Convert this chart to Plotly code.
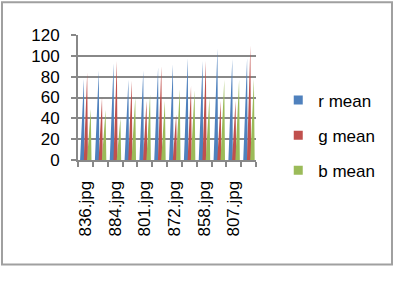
import plotly.graph_objects as go

categories = ["836.jpg", "861.jpg", "884.jpg", "829.jpg", "801.jpg", "846.jpg",
              "872.jpg", "815.jpg", "858.jpg", "893.jpg", "807.jpg", "879.jpg"]
shown_labels = ["836.jpg", "884.jpg", "801.jpg", "872.jpg", "858.jpg", "807.jpg"]
r_mean = [78, 86, 93, 77, 86, 89, 92, 98, 95, 107, 97, 98]
g_mean = [84, 60, 95, 76, 57, 90, 44, 71, 95, 57, 57, 110]
b_mean = [49, 48, 40, 60, 63, 57, 68, 67, 60, 77, 77, 78]
series_names = ["r mean", "g mean", "b mean"]
colors = ["#4F81BD", "#C0504D", "#9BBB59"]

# pyramid geometry (style): base start, base end, apex x offset in category units
geom = [(-0.36, -0.06, -0.10), (-0.11, 0.17, 0.12), (0.11, 0.41, 0.36)]

FONT = "Liberation Sans"
GRAY = "#888888"

fig = go.Figure()
for vals, name, col, (b0, b1, ap) in zip([r_mean, g_mean, b_mean], series_names, colors, geom):
    xs, ys = [], []
    for i, v in enumerate(vals):
        xs += [i + b0, i + ap, i + b1, i + b0, None]
        ys += [0, v, 0, 0, None]
    fig.add_trace(go.Scatter(x=xs, y=ys, mode="lines", fill="toself", fillcolor=col,
                             line=dict(width=0, color=col), showlegend=False,
                             legendgroup=name, hoverinfo="skip"))
    fig.add_trace(go.Scatter(x=[None], y=[None], mode="markers", name=name,
                             marker=dict(symbol="square", size=9, color=col),
                             legendgroup=name))

idx = {c: i for i, c in enumerate(categories)}
fig.update_xaxes(range=[-0.5, len(categories) - 0.5], tickmode="array",
                 tickvals=[idx[c] for c in shown_labels], ticktext=shown_labels,
                 tickangle=-90, ticks="", showgrid=False, zeroline=False,
                 showline=True, linecolor=GRAY, linewidth=2,
                 ticklabelstandoff=12,
                 tickfont=dict(family=FONT, size=17, color="black"),
                 minor=dict(tickvals=[i - 0.5 for i in range(len(categories) + 1)],
                            ticks="outside", ticklen=5, tickcolor=GRAY, tickwidth=2,
                            showgrid=False))
fig.update_yaxes(range=[0, 120], tickvals=[0, 20, 40, 60, 80, 100, 120],
                 ticks="outside", ticklen=5, tickcolor=GRAY, tickwidth=2,
                 showline=True, linecolor=GRAY, linewidth=2,
                 showgrid=True, gridcolor=GRAY, gridwidth=2, zeroline=False,
                 ticklabelstandoff=8,
                 tickfont=dict(family=FONT, size=17, color="black"))

fig.add_shape(type="rect", xref="paper", yref="paper",
              x0=-0.427, x1=1.764, y0=-0.836, y1=1.262,
              line=dict(color="#A0A0A0", width=2), fillcolor="rgba(0,0,0,0)", layer="below")

fig.update_layout(
    width=395, height=284,
    margin=dict(l=78, r=139, t=35, b=124),
    paper_bgcolor="white", plot_bgcolor="white",
    legend=dict(x=1.125, y=0.62, xanchor="left", yanchor="top",
                font=dict(family=FONT, size=17, color="black"),
                tracegroupgap=10, itemwidth=30, bgcolor="rgba(0,0,0,0)"),
    showlegend=True,
)
fig.write_html("out.html")
